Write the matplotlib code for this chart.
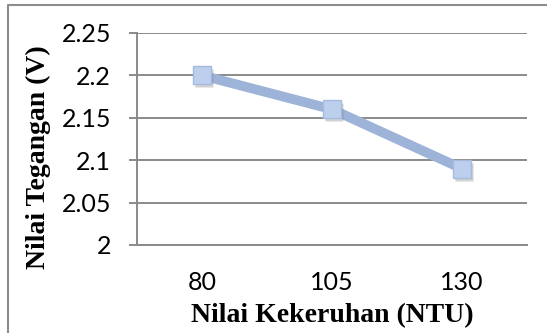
import matplotlib
matplotlib.use("Agg")
import matplotlib.pyplot as plt
import matplotlib.transforms as mtransforms
from matplotlib.lines import Line2D

# Data
turbidity = ["80", "105", "130"]
voltage = [2.20, 2.16, 2.09]
y_ticks = [2.0, 2.05, 2.1, 2.15, 2.2, 2.25]
y_tick_labels = ["2", "2.05", "2.1", "2.15", "2.2", "2.25"]

DPI = 100
W, H = 547, 333
fig = plt.figure(figsize=(W / DPI, H / DPI), dpi=DPI)
fig.patch.set_facecolor("white")

# axes placed in pixel terms
left, right, top, bottom = 137, 527, 33, 245
ax = fig.add_axes([left / W, 1 - bottom / H, (right - left) / W, (bottom - top) / H])

grid_col = "#8a8a8a"
line_col = "#9db3d8"

x = list(range(len(turbidity)))

# shadow under the markers
shadow = mtransforms.offset_copy(ax.transData, fig=fig, x=2, y=-3, units="dots")
ax.plot(x, voltage, linestyle="none", marker="s", markersize=13,
        markerfacecolor="#7f7f7f", markeredgecolor="none", alpha=0.35,
        transform=shadow, zorder=3, clip_on=False)

ax.plot(x, voltage, color=line_col, linewidth=7, solid_capstyle="butt",
        zorder=2, clip_on=False)
ax.plot(x, voltage, linestyle="none", marker="s", markersize=13,
        markerfacecolor="#bcd0ee", markeredgecolor="#a4badf",
        markeredgewidth=1.0, zorder=4, clip_on=False)

ax.set_xlim(-0.5, len(turbidity) - 0.5)
ax.set_ylim(2.0, 2.25)
ax.set_xticks(x)
ax.set_xticklabels(turbidity)
ax.set_yticks(y_ticks)
ax.set_yticklabels(y_tick_labels)

for lbl in ax.get_xticklabels() + ax.get_yticklabels():
    lbl.set_fontfamily("Lato")
    lbl.set_fontsize(18)
    lbl.set_color("black")

ax.tick_params(axis="y", length=5.8, width=1.4, color=grid_col, pad=13)
ax.tick_params(axis="x", length=0, pad=19)

ax.grid(axis="y", color=grid_col, linewidth=1.4, zorder=0)
ax.set_axisbelow(True)
for s in ["top", "right"]:
    ax.spines[s].set_visible(False)
for s in ["left", "bottom"]:
    ax.spines[s].set_color(grid_col)
    ax.spines[s].set_linewidth(1.4)

label_font = dict(family="Liberation Serif", weight="bold", size=20)
ax.set_xlabel("Nilai Kekeruhan (NTU)", **label_font)
ax.xaxis.set_label_coords(0.5, -0.275)
ax.xaxis.label.set_va("top")

ax.set_ylabel("Nilai Tegangan (V)", **label_font)
ax.yaxis.label.set_va("center")
ax.yaxis.set_label_coords(-0.254, 0.415)

# chart frame
bx, by = 8 / W, 1 - 4.5 / H
fig.add_artist(Line2D([bx, bx, 1.0], [0.0, by, by], transform=fig.transFigure,
                      color="#8c8c8c", linewidth=1.5))

fig.savefig("out.png", dpi=DPI, facecolor="white")
